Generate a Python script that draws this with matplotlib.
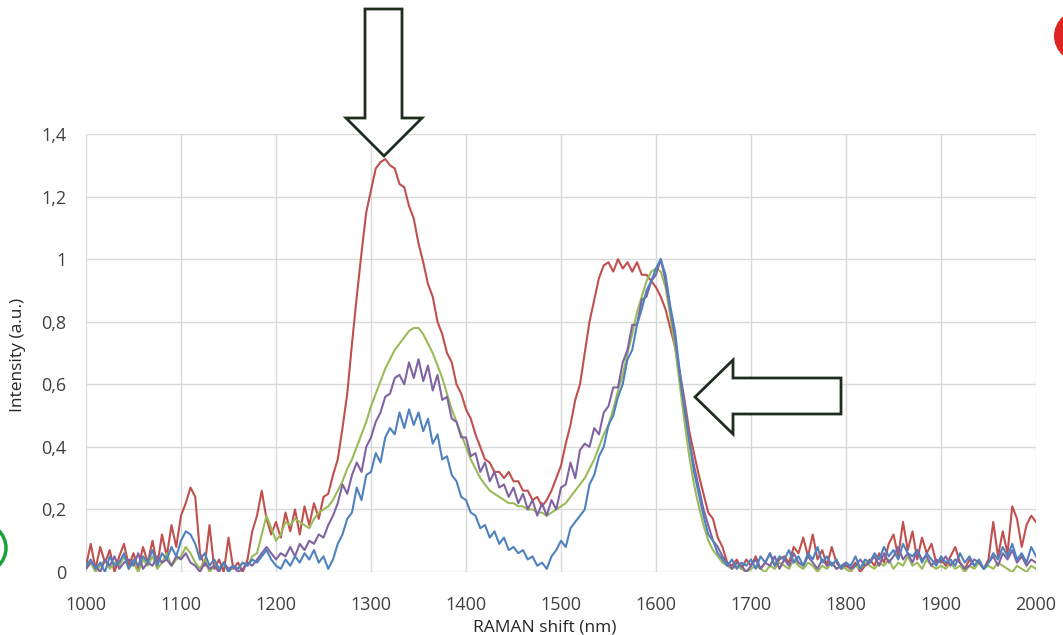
import numpy as np
import matplotlib
matplotlib.use("Agg")
import matplotlib.pyplot as plt
from matplotlib.patches import Polygon, Ellipse

plt.rcParams['font.family'] = ['Open Sans', 'DejaVu Sans']

# raman shift, 5 nm step
shift = np.arange(1000, 2001, 5)

red = [
    0.02, 0.09, 0.01, 0.08, 0.03, 0.07, 0.0, 0.05, 0.09, 0.02, 0.06, 0.01, 0.08, 0.03, 0.1, 0.02, 0.12, 0.05, 0.15, 0.08,
    0.18, 0.22, 0.27, 0.24, 0.06, 0.02, 0.15, 0.01, 0.04, 0.0, 0.11, 0.01, 0.03, 0.0, 0.04, 0.13, 0.18, 0.26, 0.17, 0.12,
    0.16, 0.11, 0.19, 0.13, 0.2, 0.12, 0.21, 0.15, 0.22, 0.17, 0.24, 0.25, 0.31, 0.36, 0.46, 0.57, 0.73, 0.88, 1.02, 1.15,
    1.22, 1.29, 1.31, 1.32, 1.3, 1.29, 1.24, 1.23, 1.17, 1.13, 1.05, 0.99, 0.92, 0.88, 0.8, 0.76, 0.7, 0.67, 0.6, 0.57,
    0.52, 0.49, 0.44, 0.4, 0.36, 0.35, 0.32, 0.32, 0.3, 0.32, 0.29, 0.29, 0.26, 0.26, 0.23, 0.24, 0.21, 0.23, 0.26, 0.3,
    0.34, 0.41, 0.47, 0.55, 0.6, 0.7, 0.8, 0.87, 0.94, 0.98, 0.99, 0.96, 1.0, 0.97, 0.99, 0.96, 0.99, 0.95, 0.95, 0.93,
    0.91, 0.88, 0.84, 0.78, 0.72, 0.64, 0.55, 0.45, 0.38, 0.31, 0.25, 0.19, 0.17, 0.11, 0.08, 0.03, 0.02, 0.04, 0.01, 0.04,
    0.02, 0.05, 0.01, 0.03, 0.06, 0.02, 0.04, 0.05, 0.03, 0.08, 0.06, 0.11, 0.05, 0.12, 0.04, 0.07, 0.02, 0.08, 0.03, 0.01,
    0.02, 0.01, 0.03, 0.0, 0.02, 0.04, 0.02, 0.06, 0.03, 0.09, 0.12, 0.05, 0.16, 0.07, 0.13, 0.04, 0.11, 0.06, 0.09, 0.03,
    0.04, 0.02, 0.05, 0.08, 0.03, 0.01, 0.04, 0.02, 0.03, 0.01, 0.04, 0.16, 0.05, 0.13, 0.06, 0.21, 0.17, 0.08, 0.15, 0.18,
    0.16]

green = [
    0.01, 0.03, 0.0, 0.02, 0.04, 0.01, 0.03, 0.02, 0.05, 0.01, 0.03, 0.0, 0.04, 0.02, 0.05, 0.01, 0.03, 0.06, 0.02, 0.04,
    0.05, 0.08, 0.06, 0.03, 0.01, 0.04, 0.0, 0.02, 0.01, 0.03, 0.0, 0.02, 0.01, 0.03, 0.02, 0.05, 0.06, 0.12, 0.18, 0.14,
    0.1, 0.12, 0.16, 0.15, 0.17, 0.16, 0.15, 0.14, 0.17, 0.19, 0.2, 0.21, 0.23, 0.26, 0.29, 0.33, 0.36, 0.4, 0.44, 0.48,
    0.53, 0.57, 0.61, 0.65, 0.68, 0.71, 0.73, 0.75, 0.77, 0.78, 0.78, 0.76, 0.73, 0.7, 0.66, 0.62, 0.57, 0.52, 0.48, 0.44,
    0.4, 0.36, 0.33, 0.3, 0.28, 0.26, 0.25, 0.24, 0.23, 0.22, 0.22, 0.21, 0.21, 0.2, 0.2, 0.19, 0.19, 0.18, 0.19, 0.2,
    0.21, 0.22, 0.24, 0.26, 0.28, 0.3, 0.33, 0.36, 0.4, 0.44, 0.47, 0.52, 0.58, 0.63, 0.7, 0.76, 0.83, 0.88, 0.93, 0.96,
    0.97, 0.96, 0.91, 0.82, 0.72, 0.6, 0.48, 0.37, 0.28, 0.21, 0.15, 0.1, 0.07, 0.05, 0.03, 0.02, 0.01, 0.02, 0.01, 0.0,
    0.01, 0.02, 0.01, 0.0, 0.02, 0.01, 0.03, 0.02, 0.01, 0.04, 0.02, 0.01, 0.03, 0.02, 0.0, 0.02, 0.01, 0.03, 0.01, 0.02,
    0.01, 0.0, 0.02, 0.01, 0.03, 0.02, 0.01, 0.03, 0.02, 0.04, 0.01, 0.03, 0.02, 0.05, 0.02, 0.03, 0.01, 0.04, 0.02, 0.01,
    0.02, 0.01, 0.03, 0.01, 0.02, 0.0, 0.02, 0.01, 0.03, 0.01, 0.02, 0.01, 0.03, 0.02, 0.01, 0.0, 0.02, 0.01, 0.0, 0.02,
    0.01]

purple = [
    0.01, 0.03, 0.02, 0.0, 0.04, 0.02, 0.05, 0.01, 0.03, 0.04, 0.02, 0.06, 0.01, 0.03, 0.02, 0.05, 0.03, 0.04, 0.02, 0.05,
    0.04, 0.06, 0.03, 0.02, 0.0, 0.03, 0.01, 0.02, 0.0, 0.03, 0.01, 0.02, 0.0, 0.01, 0.03, 0.02, 0.04, 0.06, 0.08, 0.06,
    0.04, 0.06, 0.05, 0.08, 0.05, 0.09, 0.07, 0.1, 0.09, 0.12, 0.11, 0.15, 0.18, 0.22, 0.28, 0.25, 0.31, 0.35, 0.32, 0.4,
    0.43, 0.48, 0.51, 0.56, 0.57, 0.62, 0.63, 0.6, 0.67, 0.62, 0.68, 0.61, 0.66, 0.58, 0.63, 0.55, 0.56, 0.49, 0.48, 0.43,
    0.43, 0.37, 0.38, 0.32, 0.35, 0.29, 0.32, 0.27, 0.28, 0.24, 0.27, 0.22, 0.25, 0.2, 0.23, 0.18, 0.22, 0.18, 0.23, 0.2,
    0.27, 0.28, 0.35, 0.3, 0.39, 0.41, 0.4, 0.46, 0.44, 0.51, 0.53, 0.59, 0.59, 0.67, 0.71, 0.79, 0.79, 0.87, 0.88, 0.93,
    0.95, 1.0, 0.93, 0.84, 0.75, 0.63, 0.52, 0.42, 0.34, 0.27, 0.2, 0.15, 0.1, 0.08, 0.05, 0.03, 0.01, 0.03, 0.02, 0.0,
    0.02, 0.04, 0.01, 0.03, 0.02, 0.05, 0.01, 0.04, 0.02, 0.06, 0.03, 0.02, 0.05, 0.03, 0.01, 0.04, 0.02, 0.03, 0.01, 0.02,
    0.03, 0.01, 0.02, 0.04, 0.02, 0.03, 0.05, 0.02, 0.06, 0.03, 0.05, 0.08, 0.04, 0.06, 0.03, 0.07, 0.04, 0.05, 0.02, 0.04,
    0.03, 0.05, 0.02, 0.04, 0.03, 0.01, 0.02, 0.04, 0.03, 0.01, 0.03, 0.05, 0.02, 0.06, 0.04, 0.07, 0.03, 0.05, 0.02, 0.04,
    0.03]

blue = [
    0.02, 0.04, 0.01, 0.03, 0.0, 0.05, 0.02, 0.03, 0.06, 0.01, 0.04, 0.02, 0.05, 0.03, 0.07, 0.02, 0.06, 0.04, 0.08, 0.05,
    0.1, 0.13, 0.12, 0.09, 0.04, 0.06, 0.02, 0.04, 0.01, 0.03, 0.0, 0.02, 0.01, 0.03, 0.02, 0.04, 0.03, 0.05, 0.07, 0.04,
    0.02, 0.01, 0.04, 0.02, 0.05, 0.03, 0.06, 0.04, 0.07, 0.03, 0.05, 0.01, 0.04, 0.09, 0.12, 0.17, 0.19, 0.27, 0.23, 0.31,
    0.32, 0.38, 0.35, 0.43, 0.46, 0.44, 0.51, 0.46, 0.52, 0.47, 0.51, 0.45, 0.49, 0.41, 0.44, 0.36, 0.37, 0.31, 0.29, 0.24,
    0.23, 0.19, 0.18, 0.14, 0.15, 0.11, 0.13, 0.09, 0.11, 0.07, 0.08, 0.06, 0.07, 0.04, 0.05, 0.02, 0.03, 0.01, 0.05, 0.07,
    0.1, 0.08, 0.14, 0.16, 0.18, 0.2, 0.28, 0.31, 0.37, 0.4, 0.47, 0.5, 0.56, 0.6, 0.68, 0.71, 0.79, 0.84, 0.9, 0.93,
    0.97, 1.0, 0.95, 0.85, 0.77, 0.64, 0.53, 0.42, 0.32, 0.25, 0.18, 0.12, 0.1, 0.06, 0.04, 0.02, 0.04, 0.01, 0.03, 0.02,
    0.04, 0.01, 0.05, 0.03, 0.06, 0.02, 0.05, 0.04, 0.07, 0.03, 0.05, 0.02, 0.06, 0.04, 0.08, 0.03, 0.05, 0.02, 0.04, 0.01,
    0.03, 0.02, 0.05, 0.01, 0.04, 0.03, 0.06, 0.04, 0.08, 0.05, 0.07, 0.04, 0.09, 0.06, 0.05, 0.07, 0.03, 0.06, 0.04, 0.02,
    0.05, 0.03, 0.04, 0.02, 0.06, 0.03, 0.05, 0.02, 0.04, 0.01, 0.03, 0.06, 0.04, 0.08, 0.05, 0.09, 0.04, 0.06, 0.03, 0.08,
    0.05]

xticks = [1000, 1100, 1200, 1300, 1400, 1500, 1600, 1700, 1800, 1900, 2000]
yticks = [0, 0.2, 0.4, 0.6, 0.8, 1.0, 1.2, 1.4]
ytick_labels = ['0', '0,2', '0,4', '0,6', '0,8', '1', '1,2', '1,4']

W, H = 1063, 635
fig = plt.figure(figsize=(W / 100, H / 100), dpi=100)
ax = fig.add_axes([86 / W, 1 - 572 / H, (1036 - 86) / W, (572 - 134) / H])

ax.plot(shift, red, color='#C0504D', lw=1.5)
ax.plot(shift, green, color='#9BBB59', lw=1.5)
ax.plot(shift, purple, color='#8064A2', lw=1.5)
ax.plot(shift, blue, color='#4F81BD', lw=1.5)

ax.set_xlim(1000, 2000)
ax.set_ylim(0, 1.4)
ax.set_xticks(xticks)
ax.set_yticks(yticks)
ax.set_yticklabels(ytick_labels)
ax.tick_params(length=0, labelsize=13, labelcolor='#404040')
ax.tick_params(axis='x', pad=17)
ax.tick_params(axis='y', pad=14)
ax.grid(True, color='#D9D9D9', lw=1)
ax.set_axisbelow(True)
for s in ax.spines.values():
    s.set_visible(False)

fig.text(18 / W, 1 - 355 / H, 'Intensity (a.u.)', rotation=90, ha='center', va='center',
         fontsize=12.5, color='#262626')
fig.text(545 / W, 1 - 619 / H, 'RAMAN shift (nm)', ha='center', va='top',
         fontsize=12.5, color='#262626')


def px(points):
    return [(x / W, 1 - y / H) for x, y in points]


down_arrow = [(365, 9), (402, 9), (402, 118), (422, 118), (384, 156), (346, 118), (365, 118)]
left_arrow = [(841, 378), (841, 414), (733, 414), (733, 434), (695, 397), (733, 360), (733, 378)]
for arr in (down_arrow, left_arrow):
    fig.patches.append(Polygon(px(arr), closed=True, transform=fig.transFigure,
                               facecolor='white', edgecolor='#1E2D1E', lw=2, zorder=5))

# bits of other slides cut into the picture
fig.patches.append(Ellipse((1085 / W, 1 - 36 / H), 62 / W, 56 / H, transform=fig.transFigure,
                           facecolor='#E02424', edgecolor='none'))
fig.patches.append(Ellipse((-22 / W, 1 - 548 / H), 56 / W, 52 / H, transform=fig.transFigure,
                           facecolor='none', edgecolor='#1BA33A', lw=2.5))

fig.savefig('out.png', dpi=100)
